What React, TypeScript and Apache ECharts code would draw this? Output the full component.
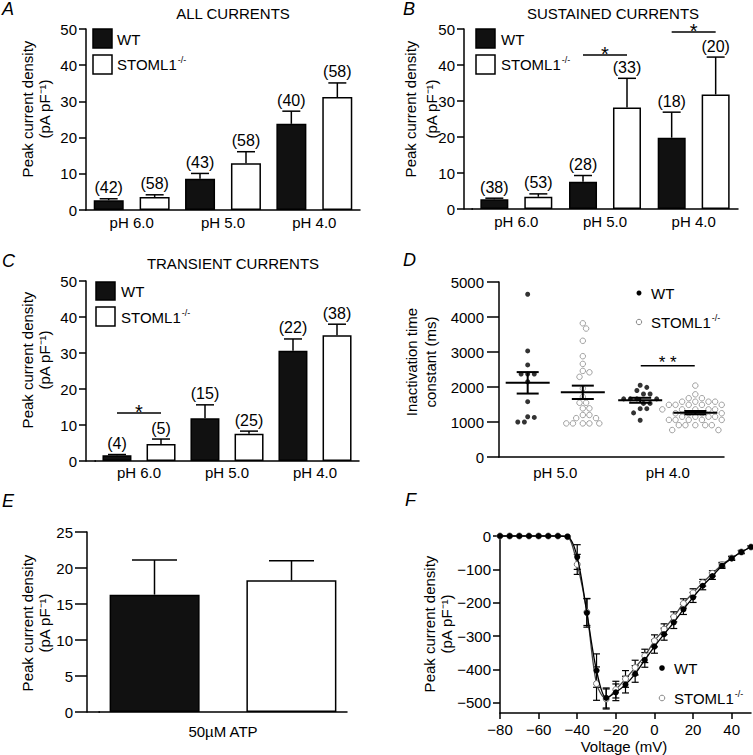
import React, { useEffect, useRef } from 'react';
import * as echarts from 'echarts';

const FONT = 'Liberation Sans, Arial, Helvetica, sans-serif';

// ---------- Panels A-C ----------
const phCategories = ['pH 6.0', 'pH 5.0', 'pH 4.0'];

const allWT = [2.7, 8.6, 23.8];
const allWTErr = [0.4, 1.5, 3.5];
const allKO = [3.6, 12.9, 31.2];
const allKOErr = [0.6, 3.2, 3.9];
const allWTn = ['(42)', '(43)', '(40)'];
const allKOn = ['(58)', '(58)', '(58)'];

const susWT = [2.7, 7.6, 19.8];
const susWTErr = [0.3, 1.7, 7.1];
const susKO = [3.4, 28.2, 31.8];
const susKOErr = [0.8, 8.1, 10.4];
const susWTn = ['(38)', '(28)', '(18)'];
const susKOn = ['(53)', '(33)', '(20)'];
const susSig = [[1, 42.8], [2, 49.2]];

const traWT = [1.6, 11.9, 30.6];
const traWTErr = [0.2, 3.7, 3.3];
const traKO = [4.7, 7.6, 34.9];
const traKOErr = [1.4, 0.7, 3.1];
const traWTn = ['(4)', '(15)', '(22)'];
const traKOn = ['(5)', '(25)', '(38)'];
const traSig = [[0, 13.3]];

// ---------- Panel D ----------
const tauCategories = ['pH 5.0', 'pH 4.0'];
const tauWT5 = [4650, 3030, 2630, 2370, 2370, 2370, 2150, 1580, 1130, 1150, 1000, 1000];
const tauKO5 = [3820, 3670, 3320, 2880, 2660, 2460, 2420, 2290, 1960, 1720, 1550, 1550, 1390, 1390, 1200, 1200, 1110, 1110, 960, 960, 960, 960, 960];
const tauWT4 = [2050, 1990, 1900, 1800, 1800, 1660, 1660, 1660, 1660, 1530, 1530, 1380, 1380, 1260, 1050];
const tauKO4 = [2040, 1790, 1680, 1680, 1580, 1580, 1580, 1580, 1490, 1490, 1490, 1490, 1490, 1360, 1360, 1360, 1360, 1360, 1360, 1250, 1250, 1250, 1250, 1150, 1150, 1150, 1150, 1060, 1060, 1060, 1060, 1060, 1060, 910, 910, 910, 910, 910, 770, 770, 770];
const tauSig = [[1.5, 2609]];

// ---------- Panel E ----------
const atpCategories = ['50\u00b5M ATP'];
const atpWT = [16.3];
const atpWTErr = [4.8];
const atpKO = [18.3];
const atpKOErr = [2.7];

// ---------- Panel F ----------
const voltages = [-80, -75, -70, -65, -60, -55, -50, -45, -40, -35, -30, -25, -20, -15, -10, -5, 0, 5, 10, 15, 20, 25, 30, 35, 40, 45, 50];
const ivWT = [0, 0, 0, 0, 0, 0, 0, -2, -63, -230, -403, -485, -468, -445, -413, -371, -331, -294, -259, -220, -184, -149, -120, -89, -67, -48, -33];
const ivWTErr = [0, 0, 0, 0, 0, 0, 0, 0, 37, 43, 50, 30, 25, 25, 25, 22, 20, 18, 18, 15, 15, 12, 10, 8, 6, 5, 4];
const ivKO = [0, 0, 0, 0, 0, 0, 0, -2, -85, -228, -442, -488, -460, -428, -394, -359, -314, -279, -242, -202, -170, -140, -112, -86, -66, -48, -33];
const ivKOErr = [0, 0, 0, 0, 0, 0, 0, 0, 30, 40, 50, 30, 25, 25, 22, 20, 18, 16, 15, 14, 12, 10, 8, 7, 5, 4, 3];

const axisLineStyle = { color: '#000', width: 1.5 };

function mean(a: number[]) {
  return a.reduce((s, v) => s + v, 0) / a.length;
}
function sem(a: number[]) {
  const m = mean(a);
  const v = a.reduce((s, x) => s + (x - m) * (x - m), 0) / (a.length - 1);
  return Math.sqrt(v) / Math.sqrt(a.length);
}

function txt(text: string, x: number, y: number, size: number, align = 'center', extra: any = {}) {
  return {
    type: 'text',
    x,
    y,
    z: 100,
    style: {
      text,
      fontSize: size,
      fontFamily: FONT,
      fill: '#000',
      align,
      textAlign: align,
      verticalAlign: 'middle',
      textVerticalAlign: 'middle',
      ...extra,
    },
  };
}

function koText(x: number, y: number, size: number) {
  return {
    type: 'text',
    x,
    y,
    z: 100,
    style: {
      text: '{n|STOML1}{s|-/-}',
      align: 'left',
      textAlign: 'left',
      verticalAlign: 'middle',
      textVerticalAlign: 'middle',
      fill: '#000',
      rich: {
        n: { fontSize: size, fontFamily: FONT, fill: '#000', lineHeight: size + 2, verticalAlign: 'middle' },
        s: { fontSize: 9, fontFamily: FONT, fill: '#000', lineHeight: size + 2, verticalAlign: 'top', padding: [0, 0, 0, 1] },
      },
    },
  };
}

function yName(l1: string, l2: string, x1: number, x2: number, y: number) {
  return [
    { ...txt(l1, x1, y, 15), rotation: Math.PI / 2 },
    { ...txt(l2, x2, y, 15), rotation: Math.PI / 2 },
  ];
}

const plainFmt = (v: number) => String(v).replace('-', '\u2212');

function yAx(gridIndex: number, min: number, max: number, interval: number | undefined, tickLen: number, margin: number, offset = 0, extra: any = {}) {
  return {
    type: 'value',
    gridIndex,
    min,
    max,
    interval,
    offset,
    axisLine: { show: true, onZero: false, lineStyle: axisLineStyle },
    axisTick: { show: true, length: tickLen, lineStyle: axisLineStyle },
    axisLabel: { color: '#000', fontSize: 15, fontFamily: FONT, margin, formatter: plainFmt, ...(extra.axisLabel || {}) },
    splitLine: { show: false },
  };
}

function catX(gridIndex: number, data: string[], margin: number) {
  return {
    type: 'category',
    gridIndex,
    data,
    axisLine: { show: true, onZero: false, lineStyle: axisLineStyle },
    axisTick: { show: false },
    axisLabel: { color: '#000', fontSize: 15, fontFamily: FONT, margin },
    splitLine: { show: false },
  };
}

function bars(xi: number, yi: number, vals: number[], fill: string, barWidth: number, barGap: string) {
  return {
    type: 'bar',
    xAxisIndex: xi,
    yAxisIndex: yi,
    data: vals,
    barWidth,
    barGap,
    z: 2,
    itemStyle: { color: fill, borderColor: '#000', borderWidth: 1.5 },
  };
}

function errUp(xi: number, yi: number, vals: number[], errs: number[], labels: string[] | null, offPx: number, capHalf: number) {
  return {
    type: 'custom',
    xAxisIndex: xi,
    yAxisIndex: yi,
    z: 5,
    clip: false,
    data: vals.map((v, i) => [i, v, v + errs[i]]),
    renderItem: (params: any, api: any) => {
      const b = api.coord([api.value(0), api.value(1)]);
      const t = api.coord([api.value(0), api.value(2)]);
      const x = b[0] + offPx;
      const ls = { stroke: '#000', lineWidth: 1.5 };
      const ch: any[] = [
        { type: 'line', shape: { x1: x, y1: b[1], x2: x, y2: t[1] }, style: ls },
        { type: 'line', shape: { x1: x - capHalf, y1: t[1], x2: x + capHalf, y2: t[1] }, style: ls },
      ];
      if (labels) {
        ch.push({
          type: 'text',
          x,
          y: t[1] - 3,
          style: {
            text: labels[params.dataIndex],
            fontSize: 16,
            fontFamily: FONT,
            fill: '#000',
            align: 'center',
            textAlign: 'center',
            verticalAlign: 'bottom',
            textVerticalAlign: 'bottom',
          },
        });
      }
      return { type: 'group', children: ch };
    },
  };
}

function sigSeries(xi: number, yi: number, data: number[][], halfPx: number, label: string, size: number, dy: number) {
  return {
    type: 'custom',
    xAxisIndex: xi,
    yAxisIndex: yi,
    z: 6,
    clip: false,
    data,
    renderItem: (params: any, api: any) => {
      const c = api.coord([api.value(0), api.value(1)]);
      return {
        type: 'group',
        children: [
          { type: 'line', shape: { x1: c[0] - halfPx, y1: c[1], x2: c[0] + halfPx, y2: c[1] }, style: { stroke: '#000', lineWidth: 1.5 } },
          {
            type: 'text',
            x: c[0],
            y: c[1] + dy,
            style: {
              text: label,
              fontSize: size,
              fontFamily: FONT,
              fill: '#000',
              align: 'center',
              textAlign: 'center',
              verticalAlign: 'middle',
              textVerticalAlign: 'middle',
            },
          },
        ],
      };
    },
  };
}

// simple beeswarm in pixel space (y: px per unit, x: px per x unit)
function swarm(values: number[], center: number, yPx: number, xPx: number) {
  const placed: { x: number; y: number }[] = [];
  const order = values.map((_, i) => i).sort((a, b) => values[b] - values[a]);
  const res: number[][] = new Array(values.length);
  for (const i of order) {
    const y = values[i] * yPx;
    let dx = 0;
    for (let step = 0; step < 60; step++) {
      const cand = step === 0 ? 0 : (step % 2 === 1 ? 1 : -1) * Math.ceil(step / 2) * 3.3;
      if (placed.every((p) => Math.hypot(p.x - cand, p.y - y) >= 6.2)) {
        dx = cand;
        break;
      }
    }
    placed.push({ x: dx, y });
    res[i] = [center + dx / xPx, values[i]];
  }
  return res;
}

export default function App() {
  const ref = useRef<HTMLDivElement>(null);
  useEffect(() => {
    if (!ref.current) return;
    const chart = echarts.init(ref.current, undefined, { renderer: 'svg' });

    const dYPx = 175 / 5000;
    const dXPx = 225 / 2;
    const dOff = 0.245;
    const groupsD = [
      { x: 0.5 - dOff, vals: tauWT5 },
      { x: 0.5 + dOff, vals: tauKO5 },
      { x: 1.5 - dOff, vals: tauWT4 },
      { x: 1.5 + dOff, vals: tauKO4 },
    ];

    const errF = (xi: number, yi: number, vals: number[], errs: number[]) => ({
      type: 'custom',
      xAxisIndex: xi,
      yAxisIndex: yi,
      z: 4,
      clip: false,
      data: voltages.map((v, i) => [v, vals[i], errs[i]]).filter((d) => d[2] > 0),
      renderItem: (params: any, api: any) => {
        const lo = api.coord([api.value(0), api.value(1) - api.value(2)]);
        const hi = api.coord([api.value(0), api.value(1) + api.value(2)]);
        const x = lo[0];
        const ls = { stroke: '#000', lineWidth: 1.2 };
        return {
          type: 'group',
          children: [
            { type: 'line', shape: { x1: x, y1: lo[1], x2: x, y2: hi[1] }, style: ls },
            { type: 'line', shape: { x1: x - 3.5, y1: lo[1], x2: x + 3.5, y2: lo[1] }, style: ls },
            { type: 'line', shape: { x1: x - 3.5, y1: hi[1], x2: x + 3.5, y2: hi[1] }, style: ls },
          ],
        };
      },
    });

    const graphics: any[] = [
      // panel letters
      txt('A', 2, 9, 18, 'left', { fontStyle: 'italic' }),
      txt('B', 403, 9, 18, 'left', { fontStyle: 'italic' }),
      txt('C', 2, 261, 18, 'left', { fontStyle: 'italic' }),
      txt('D', 403, 260, 18, 'left', { fontStyle: 'italic' }),
      txt('E', 2, 501, 18, 'left', { fontStyle: 'italic' }),
      txt('F', 405, 500, 18, 'left', { fontStyle: 'italic' }),
      // titles
      txt('ALL CURRENTS', 233, 13, 15),
      txt('SUSTAINED CURRENTS', 613, 13, 15),
      txt('TRANSIENT CURRENTS', 233, 263, 15),
      // y names
      ...yName('Peak current density', '(pA pF\u207b\u00b9)', 27, 44, 109),
      ...yName('Peak current density', '(pA pF\u207b\u00b9)', 410, 431, 109),
      ...yName('Peak current density', '(pA pF\u207b\u00b9)', 27, 44, 360),
      ...yName('Inactivation time', 'constant (ms)', 411, 430, 362),
      ...yName('Peak current density', '(pA pF\u207b\u00b9)', 27, 44, 623),
      ...yName('Peak current density', '(pA pF\u207b\u00b9)', 429, 446, 624),
      txt('Voltage (mV)', 624, 746, 15),
      // legends A
      { type: 'rect', shape: { x: 93, y: 29, width: 19, height: 19 }, style: { fill: '#111', stroke: '#000', lineWidth: 1.5 } },
      { type: 'rect', shape: { x: 93, y: 55, width: 19, height: 19 }, style: { fill: '#fff', stroke: '#000', lineWidth: 1.5 } },
      txt('WT', 117, 39, 15, 'left'),
      koText(117, 64, 15),
      // legends B
      { type: 'rect', shape: { x: 476, y: 29, width: 19, height: 19 }, style: { fill: '#111', stroke: '#000', lineWidth: 1.5 } },
      { type: 'rect', shape: { x: 476, y: 55, width: 19, height: 19 }, style: { fill: '#fff', stroke: '#000', lineWidth: 1.5 } },
      txt('WT', 501, 39, 15, 'left'),
      koText(501, 64, 15),
      // legends C
      { type: 'rect', shape: { x: 96, y: 282, width: 19, height: 18 }, style: { fill: '#111', stroke: '#000', lineWidth: 1.5 } },
      { type: 'rect', shape: { x: 96, y: 307, width: 19, height: 19 }, style: { fill: '#fff', stroke: '#000', lineWidth: 1.5 } },
      txt('WT', 121, 291, 15, 'left'),
      koText(121, 317, 15),
      // legend D
      { type: 'circle', shape: { cx: 639, cy: 293, r: 2.5 }, style: { fill: '#000' } },
      txt('WT', 651, 293, 15, 'left'),
      { type: 'circle', shape: { cx: 639, cy: 322, r: 2.7 }, style: { fill: '#fff', stroke: '#888', lineWidth: 1 } },
      koText(651, 322, 15),
      // legend F
      { type: 'circle', shape: { cx: 662, cy: 668, r: 2.8 }, style: { fill: '#000' } },
      txt('WT', 674, 668, 15, 'left'),
      { type: 'circle', shape: { cx: 662, cy: 698, r: 2.8 }, style: { fill: '#fff', stroke: '#888', lineWidth: 1 } },
      koText(674, 698, 15),
      // x-axis joins where y axis is offset
      { type: 'line', shape: { x1: 464, y1: 209, x2: 473, y2: 209 }, style: { stroke: '#000', lineWidth: 1.5 } },
      { type: 'line', shape: { x1: 86, y1: 461, x2: 96, y2: 461 }, style: { stroke: '#000', lineWidth: 1.5 } },
      { type: 'line', shape: { x1: 87, y1: 712, x2: 100, y2: 712 }, style: { stroke: '#000', lineWidth: 1.5 } },
    ];

    const option: any = {
      animation: false,
      backgroundColor: '#fff',
      textStyle: { fontFamily: FONT },
      grid: [
        { left: 86, top: 29, width: 274, height: 181 }, // A
        { left: 472, top: 29, width: 266, height: 180 }, // B
        { left: 95, top: 281, width: 264, height: 180 }, // C
        { left: 499, top: 282, width: 225, height: 175 }, // D
        { left: 99, top: 532, width: 248, height: 180 }, // E
        { left: 500, top: 536, width: 251, height: 177 }, // F
      ],
      xAxis: [
        catX(0, phCategories, 5),
        catX(1, phCategories, 5),
        catX(2, phCategories, 4),
        catX(3, tauCategories, 8),
        { type: 'value', gridIndex: 3, min: 0, max: 2, show: false },
        catX(4, atpCategories, 12),
        {
          type: 'value',
          gridIndex: 5,
          min: -80,
          max: 50,
          interval: 20,
          axisLine: { show: true, onZero: false, lineStyle: axisLineStyle },
          axisTick: { show: true, length: 6, lineStyle: axisLineStyle },
          axisLabel: { color: '#000', fontSize: 15, fontFamily: FONT, margin: 9, showMaxLabel: false, formatter: plainFmt },
          splitLine: { show: false },
        },
      ],
      yAxis: [
        yAx(0, 0, 50, 10, 7, 9),
        yAx(1, 0, 50, 10, 7, 9, 8),
        yAx(2, 0, 50, 10, 7, 9, 9),
        yAx(3, 0, 5000, 1000, 12, 15),
        yAx(4, 0, 25, 5, 12, 14, 12),
        yAx(5, -530, 0, undefined, 7, 9, 0, { axisLabel: { showMinLabel: false } }),
      ],
      graphic: graphics,
      series: [
        // A
        bars(0, 0, allWT, '#111', 30, '53%'),
        bars(0, 0, allKO, '#fff', 30, '53%'),
        errUp(0, 0, allWT, allWTErr, allWTn, -23, 9),
        errUp(0, 0, allKO, allKOErr, allKOn, 23, 9),
        // B
        bars(1, 1, susWT, '#111', 28, '57%'),
        bars(1, 1, susKO, '#fff', 28, '57%'),
        errUp(1, 1, susWT, susWTErr, susWTn, -22, 9),
        errUp(1, 1, susKO, susKOErr, susKOn, 22, 9),
        sigSeries(1, 1, susSig, 22, '*', 20, -1),
        // C
        bars(2, 2, traWT, '#111', 29, '52%'),
        bars(2, 2, traKO, '#fff', 29, '52%'),
        errUp(2, 2, traWT, traWTErr, traWTn, -22, 9),
        errUp(2, 2, traKO, traKOErr, traKOn, 22, 9),
        sigSeries(2, 2, traSig, 22, '*', 20, -1),
        // D
        {
          type: 'scatter',
          xAxisIndex: 4,
          yAxisIndex: 3,
          symbol: 'circle',
          symbolSize: 5,
          itemStyle: { color: '#000' },
          data: [...swarm(tauWT5, groupsD[0].x, dYPx, dXPx), ...swarm(tauWT4, groupsD[2].x, dYPx, dXPx)],
          z: 3,
        },
        {
          type: 'scatter',
          xAxisIndex: 4,
          yAxisIndex: 3,
          symbol: 'circle',
          symbolSize: 5.5,
          itemStyle: { color: '#fff', borderColor: '#8a8a8a', borderWidth: 1 },
          data: [...swarm(tauKO5, groupsD[1].x, dYPx, dXPx), ...swarm(tauKO4, groupsD[3].x, dYPx, dXPx)],
          z: 3,
        },
        {
          type: 'custom',
          xAxisIndex: 4,
          yAxisIndex: 3,
          z: 5,
          clip: false,
          data: groupsD.map((g) => [g.x, mean(g.vals), sem(g.vals)]),
          renderItem: (params: any, api: any) => {
            const m = api.coord([api.value(0), api.value(1)]);
            const hi = api.coord([api.value(0), api.value(1) + api.value(2)]);
            const lo = api.coord([api.value(0), api.value(1) - api.value(2)]);
            const ls = { stroke: '#000', lineWidth: 2 };
            return {
              type: 'group',
              children: [
                { type: 'line', shape: { x1: m[0] - 22, y1: m[1], x2: m[0] + 22, y2: m[1] }, style: ls },
                { type: 'line', shape: { x1: m[0], y1: lo[1], x2: m[0], y2: hi[1] }, style: ls },
                { type: 'line', shape: { x1: m[0] - 11, y1: lo[1], x2: m[0] + 11, y2: lo[1] }, style: ls },
                { type: 'line', shape: { x1: m[0] - 11, y1: hi[1], x2: m[0] + 11, y2: hi[1] }, style: ls },
              ],
            };
          },
        },
        sigSeries(4, 3, tauSig, 27, '* *', 17, -3),
        // E
        bars(5, 4, atpWT, '#111', 90, '52%'),
        bars(5, 4, atpKO, '#fff', 90, '52%'),
        errUp(5, 4, atpWT, atpWTErr, null, -68.5, 22.5),
        errUp(5, 4, atpKO, atpKOErr, null, 68.5, 22.5),
        // F
        errF(6, 5, ivKO, ivKOErr),
        errF(6, 5, ivWT, ivWTErr),
        {
          type: 'line',
          xAxisIndex: 6,
          yAxisIndex: 5,
          smooth: 0.3,
          symbol: 'circle',
          symbolSize: 6,
          data: voltages.map((v, i) => [v, ivKO[i]]),
          lineStyle: { color: '#444', width: 1.3 },
          itemStyle: { color: '#fff', borderColor: '#777', borderWidth: 1 },
          z: 5,
          clip: false,
        },
        {
          type: 'line',
          xAxisIndex: 6,
          yAxisIndex: 5,
          smooth: 0.3,
          symbol: 'circle',
          symbolSize: 6,
          data: voltages.map((v, i) => [v, ivWT[i]]),
          lineStyle: { color: '#000', width: 1.3 },
          itemStyle: { color: '#000' },
          z: 6,
          clip: false,
        },
      ],
    };

    chart.setOption(option);
    return () => chart.dispose();
  }, []);

  return <div ref={ref} style={{ position: 'absolute', left: 0, top: 0, width: 753, height: 755, background: '#fff' }} />;
}
